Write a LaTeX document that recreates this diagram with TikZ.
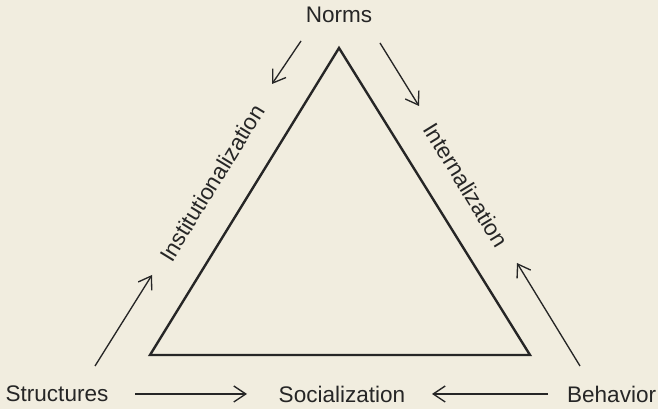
\documentclass[tikz,border=0pt]{standalone}
\usepackage{fontspec}
\setmainfont{Liberation Sans}
\usepackage{xcolor}
\usetikzlibrary{arrows.meta,positioning}
\definecolor{paper}{RGB}{241,237,223}
\definecolor{ink}{RGB}{38,38,38}

\begin{document}
\begin{tikzpicture}[x=0.75pt,y=-0.75pt,
      >={Straight Barb[length=9pt,width=12pt]},
      term/.style={text=ink,font=\fontsize{16.9}{20}\selectfont,inner sep=2pt},
      tri/.style={draw=ink,line width=1.8pt},
      flow/.style={->,draw=ink,line width=1pt}]
  \fill[paper] (0,0) rectangle (658,409);
  \useasboundingbox (0,0) rectangle (658,409);

  % corners of the triangle
  \coordinate (top)   at (339,48);
  \coordinate (left)  at (150,355);
  \coordinate (right) at (530,355);
  \draw[tri] (top) -- (right) -- (left) -- cycle;

  % the four terms and the two side labels
  \node[term] (norms)  at (339,15)  {Norms};
  \node[term] (struct) at (57,394)  {Structures};
  \node[term] (social) at (342,394) {Socialization};
  \node[term, anchor=east] (behav) at (659,394) {Behavior};
  \node[term, rotate=58.5]  (inst) at (212,183) {Institutionalization};
  \node[term, rotate=-58.5] (intl) at (466,185) {Internalization};

  % arrow ends
  \coordinate (n1) at (301,41);  \coordinate (n1t) at (272,84);
  \coordinate (n2) at (380,43);  \coordinate (n2t) at (419,106);
  \coordinate (s1) at (95,366);  \coordinate (s1t) at (152,275);
  \coordinate (b1) at (580,366); \coordinate (b1t) at (517,263);
  \coordinate (s2) at (135,394); \coordinate (s2t) at (247,394);
  \coordinate (b2) at (548,394); \coordinate (b2t) at (432,394);

  \draw[flow] (n1) -- (n1t);
  \draw[flow] (n2) -- (n2t);
  \draw[flow] (s1) -- (s1t);
  \draw[flow] (b1) -- (b1t);
  \draw[flow] (s2) -- (s2t);
  \draw[flow] (b2) -- (b2t);
\end{tikzpicture}
\end{document}
